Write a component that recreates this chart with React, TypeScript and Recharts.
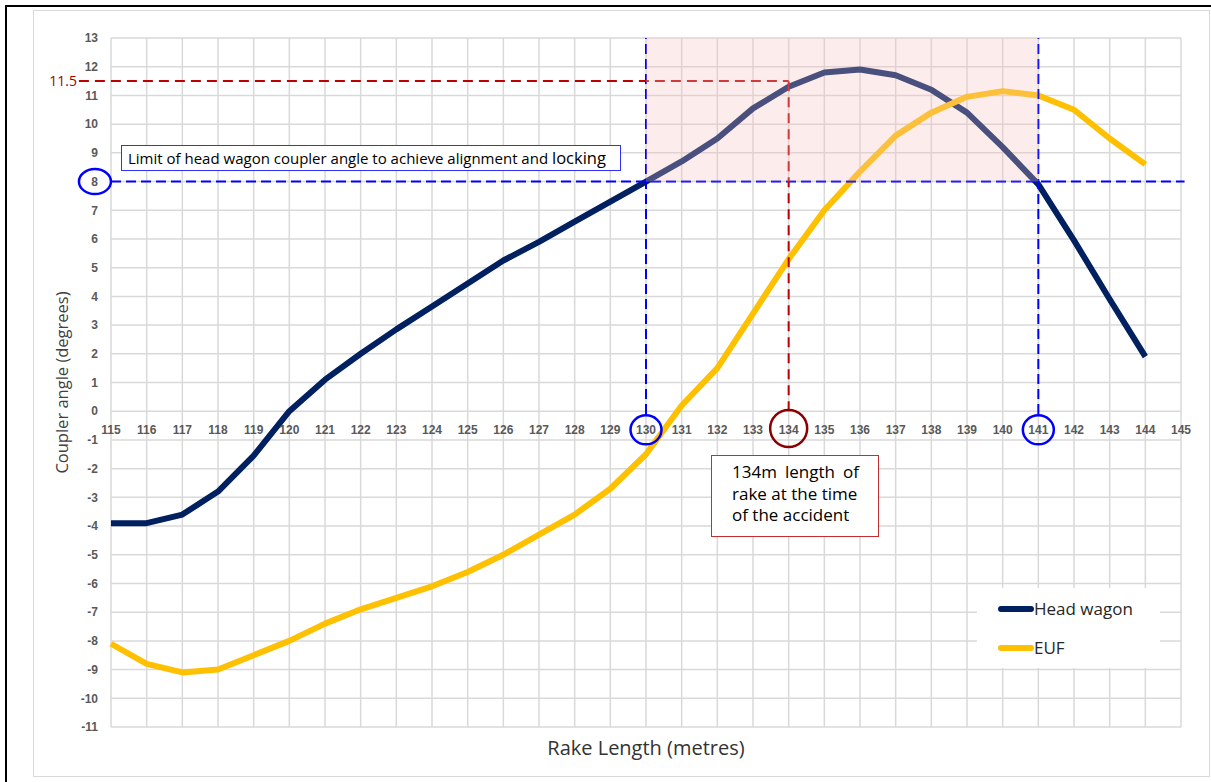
import React from 'react';
import {
  LineChart,
  Line,
  XAxis,
  YAxis,
  CartesianGrid,
  ReferenceLine,
  ReferenceArea,
  ReferenceDot,
  Legend,
} from 'recharts';

const rakeLengths = [115, 116, 117, 118, 119, 120, 121, 122, 123, 124, 125, 126, 127, 128, 129, 130, 131, 132, 133, 134, 135, 136, 137, 138, 139, 140, 141, 142, 143, 144];
const headWagon = [-3.9, -3.9, -3.6, -2.8, -1.55, 0, 1.1, 2.0, 2.85, 3.65, 4.45, 5.25, 5.9, 6.6, 7.3, 8.0, 8.7, 9.5, 10.55, 11.3, 11.8, 11.9, 11.7, 11.2, 10.4, 9.2, 7.9, 5.95, 3.9, 1.9];
const euf = [-8.1, -8.8, -9.1, -9.0, -8.5, -8.0, -7.4, -6.9, -6.5, -6.1, -5.6, -5.0, -4.3, -3.6, -2.7, -1.5, 0.2, 1.5, 3.4, 5.3, 7.0, 8.35, 9.6, 10.4, 10.95, 11.15, 11.0, 10.5, 9.5, 8.6];
const xTicks = [115, 116, 117, 118, 119, 120, 121, 122, 123, 124, 125, 126, 127, 128, 129, 130, 131, 132, 133, 134, 135, 136, 137, 138, 139, 140, 141, 142, 143, 144, 145];
const yTicks = [-11, -10, -9, -8, -7, -6, -5, -4, -3, -2, -1, 0, 1, 2, 3, 4, 5, 6, 7, 8, 9, 10, 11, 12, 13];
const legendOrder = ['Head wagon', 'EUF'];

const limitAngle = 8;
const peakLine = 11.5;
const limitStart = 130;
const limitEnd = 141;
const accidentLength = 134;

const data = rakeLengths.map((x, i) => ({ x, head: headWagon[i], euf: euf[i] }));

const W = 1211;
const H = 782;
const PLOT_TOP = 38;
const PLOT_BOTTOM = 727;
const Y_MIN = -11;
const Y_MAX = 13;
const zeroY = PLOT_TOP + ((PLOT_BOTTOM - PLOT_TOP) * Y_MAX) / (Y_MAX - Y_MIN);

const tickFont = '"Liberation Sans", Arial, sans-serif';
const textFont = '"Open Sans", "Noto Sans", sans-serif';

const XTick = (props: any) => {
  const { x, payload } = props;
  return (
    <text x={x} y={zeroY + 23} textAnchor="middle" fontFamily={tickFont} fontSize={12} fontWeight="bold" fill="#595959">
      {payload.value}
    </text>
  );
};

const ellipse = (rx: number, ry: number, color: string) => (p: any) => (
  <ellipse cx={p.cx} cy={p.cy} rx={rx} ry={ry} fill="none" stroke={color} strokeWidth={2.5} />
);

const renderLegend = (props: any) => {
  const payload = [...(props.payload || [])].sort(
    (a: any, b: any) => legendOrder.indexOf(a.value) - legendOrder.indexOf(b.value)
  );
  return (
    <div style={{ background: '#fff', width: 183, height: 80, boxSizing: 'border-box', paddingTop: 1, paddingLeft: 21 }}>
      {payload.map((entry: any) => (
        <div key={entry.value} style={{ display: 'flex', alignItems: 'center', height: 39 }}>
          <span style={{ display: 'inline-block', width: 36, height: 6, borderRadius: 3, background: entry.color }} />
          <span style={{ fontFamily: textFont, fontSize: 17, color: '#262626' }}>{entry.value}</span>
        </div>
      ))}
    </div>
  );
};

export default function App() {
  return (
    <div style={{ position: 'absolute', left: 0, top: 0, width: W, height: H, overflow: 'hidden', background: '#fff' }}>
      <div style={{ position: 'absolute', left: 5, top: 5, width: 1230, height: 800, border: '2.5px solid #000' }} />
      <div style={{ position: 'absolute', left: 33, top: 10, width: 1175, height: 765, border: '1.5px solid #d9d9d9' }} />
      <div style={{ position: 'absolute', left: 0, top: 0 }}>
        <LineChart width={W} height={H} data={data} margin={{ top: PLOT_TOP, right: 30, bottom: 25, left: 61 }}>
          <CartesianGrid stroke="#d9d9d9" strokeWidth={1.5} />
          <XAxis
            dataKey="x"
            type="number"
            domain={[115, 145]}
            ticks={xTicks}
            axisLine={false}
            tickLine={false}
            tick={<XTick />}
            height={30}
            interval={0}
            label={{ value: 'Rake Length (metres)', position: 'insideBottom', offset: 2, fill: '#333333', fontSize: 20, fontFamily: textFont }}
          />
          <YAxis
            type="number"
            domain={[Y_MIN, Y_MAX]}
            ticks={yTicks}
            interval={0}
            width={50}
            axisLine={false}
            tickLine={false}
            tickSize={0}
            tickMargin={13}
            tick={{ fontFamily: tickFont, fontSize: 12, fontWeight: 'bold', fill: '#595959' }}
            label={{ value: 'Coupler angle (degrees)', angle: -90, position: 'insideLeft', offset: 1, fill: '#404040', fontSize: 16.5, fontFamily: textFont, style: { textAnchor: 'middle' } }}
          />
          <Line dataKey="head" name="Head wagon" stroke="#002060" strokeWidth={6} dot={false} strokeLinejoin="round" isAnimationActive={false} />
          <Line dataKey="euf" name="EUF" stroke="#FFC000" strokeWidth={6} dot={false} strokeLinejoin="round" isAnimationActive={false} />
          <ReferenceArea x1={limitStart} x2={limitEnd} y1={limitAngle} y2={Y_MAX} fill="#F4C1C1" fillOpacity={0.3} stroke="none" zIndex={600} />
          <ReferenceLine segment={[{ x: 115, y: limitAngle }, { x: 145.1, y: limitAngle }]} stroke="#0000FF" strokeWidth={2} strokeDasharray="10 5" ifOverflow="visible" />
          <ReferenceLine segment={[{ x: limitStart, y: -0.1 }, { x: limitStart, y: Y_MAX }]} stroke="#0000FF" strokeWidth={2} strokeDasharray="10 5" ifOverflow="visible" />
          <ReferenceLine segment={[{ x: limitEnd, y: -0.1 }, { x: limitEnd, y: Y_MAX }]} stroke="#0000FF" strokeWidth={2} strokeDasharray="10 5" ifOverflow="visible" />
          <ReferenceLine
            segment={[{ x: 114.1, y: peakLine }, { x: accidentLength, y: peakLine }]}
            stroke="#C00000"
            strokeWidth={2}
            strokeDasharray="10 6"
            ifOverflow="visible"
            label={{ value: '11.5', position: 'left', offset: 2, fill: '#A00000', fontSize: 14, fontFamily: textFont }}
          />
          <ReferenceLine segment={[{ x: accidentLength, y: 0 }, { x: accidentLength, y: peakLine }]} stroke="#C00000" strokeWidth={2} strokeDasharray="10 6" ifOverflow="visible" />
          <ReferenceDot x={114.55} y={limitAngle} ifOverflow="visible" shape={ellipse(16, 12.5, '#0000FF')} />
          <ReferenceDot x={limitStart} y={-0.65} ifOverflow="visible" shape={ellipse(15.5, 14.5, '#0000FF')} />
          <ReferenceDot x={limitEnd} y={-0.65} ifOverflow="visible" shape={ellipse(15.5, 14.5, '#0000FF')} />
          <ReferenceDot x={accidentLength} y={-0.6} ifOverflow="visible" shape={ellipse(18.5, 18.5, '#8B0000')} />
          <Legend layout="vertical" align="center" verticalAlign="middle" wrapperStyle={{ left: 977, top: 588, width: 183, height: 80 }} content={renderLegend} />
        </LineChart>
      </div>
      <div
        style={{
          position: 'absolute',
          left: 121,
          top: 145,
          width: 500,
          height: 26,
          boxSizing: 'border-box',
          border: '1px solid #3030FF',
          background: '#fff',
          fontFamily: textFont,
          fontSize: 15,
          color: '#000',
          paddingLeft: 6,
          lineHeight: '24px',
          whiteSpace: 'nowrap',
        }}
      >
        Limit of head wagon coupler angle to achieve alignment and <span style={{ fontSize: 16.5 }}>locking</span>
      </div>
      <div
        style={{
          position: 'absolute',
          left: 711,
          top: 455,
          width: 168,
          height: 82,
          boxSizing: 'border-box',
          border: '1px solid #C03030',
          background: '#fff',
          fontFamily: textFont,
          fontSize: 17,
          color: '#000',
          paddingLeft: 20,
          paddingTop: 5,
          lineHeight: '21.5px',
          whiteSpace: 'nowrap',
        }}
      >
        <div style={{ width: 127, textAlign: 'justify', textAlignLast: 'justify' }}>134m length of</div>
        <div>rake at the time</div>
        <div>of the accident</div>
      </div>
    </div>
  );
}
